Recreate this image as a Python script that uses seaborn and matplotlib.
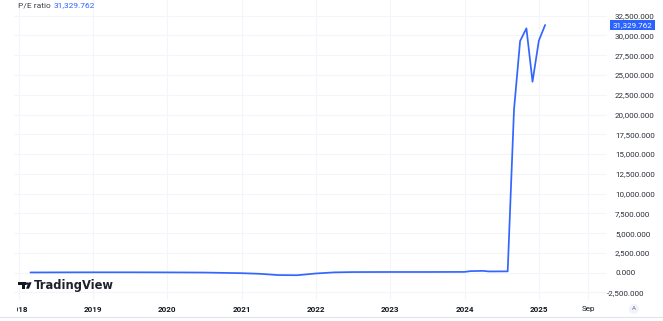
import numpy as np
import pandas as pd
import matplotlib
matplotlib.use("Agg")
import matplotlib.pyplot as plt
import matplotlib.transforms as mtransforms
from matplotlib.patches import Rectangle, Ellipse, Polygon
from matplotlib.lines import Line2D
import seaborn as sns

# ---------------- data ----------------
dates = ["2018-02-28", "2018-06-30", "2018-12-31", "2019-06-30", "2019-12-31",
         "2020-06-30", "2020-12-31", "2021-03-31", "2021-06-30", "2021-09-30",
         "2021-12-31", "2022-03-31", "2022-06-30", "2022-12-31", "2023-06-30",
         "2023-12-31", "2024-01-31", "2024-03-31", "2024-04-30", "2024-07-31",
         "2024-08-31", "2024-09-30", "2024-10-31", "2024-11-30", "2024-12-31",
         "2025-01-31"]
pe_values = [30, 40, 50, 50, 40,
             20, -60, -140, -300, -320,
             -100, 40, 80, 90, 90,
             100, 200, 230, 160, 170,
             20600, 29300, 30900, 24150, 29340,
             31329.762]
x_tick_dates = ["2018-01-01", "2019-01-01", "2020-01-01", "2021-01-01", "2022-01-01",
                "2023-01-01", "2024-01-01", "2025-01-01", "2025-09-01"]
x_tick_labels = ["2018", "2019", "2020", "2021", "2022", "2023", "2024", "2025", "Sep"]
y_ticks = [-2500, 0, 2500, 5000, 7500, 10000, 12500, 15000, 17500, 20000,
           22500, 25000, 27500, 30000, 32500]
y_tick_labels = ["-2,500.000", "0.000", "2,500.000", "5,000.000", "7,500.000",
                 "10,000.000", "12,500.000", "15,000.000", "17,500.000", "20,000.000",
                 "22,500.000", "25,000.000", "27,500.000", "30,000.000", "32,500.000"]
series_name = "P/E ratio"
last_label = "31,329.762"

df = pd.DataFrame({"date": pd.to_datetime(dates), "pe": pe_values})

# ---------------- style ----------------
sns.set_style("white")
plt.rcParams["font.family"] = ["Roboto", "DejaVu Sans"]

W, H = 663, 321
fig = plt.figure(figsize=(W / 100, H / 100), dpi=100)
fig.patch.set_facecolor("white")

def fx(px):
    return px / W

def fy(py):
    return 1 - py / H

left_px, right_px, top_px, bottom_px = 14, 607, 0, 300
ax = fig.add_axes([fx(left_px), fy(bottom_px), (right_px - left_px) / W, (bottom_px - top_px) / H])

BLUE = "#2962FF"
LINE = "#3366ff"
GRID = "#f3f5fa"
TXT = "#131722"

sns.lineplot(data=df, x="date", y="pe", ax=ax, color=LINE, linewidth=1.25)

ax.set_xlim(pd.Timestamp("2017-12-09"), pd.Timestamp("2025-12-01"))
ax.set_ylim(-3452, 34484)

for s in ax.spines.values():
    s.set_visible(False)

ax.set_xlabel("")
ax.set_ylabel("")

ax.set_xticks(pd.to_datetime(x_tick_dates))
ax.set_xticklabels(x_tick_labels)
ax.set_yticks(y_ticks)
ax.set_yticklabels(y_tick_labels)

ax.yaxis.tick_right()
ax.tick_params(axis="y", length=0, pad=5.8, labelsize=5.8, labelcolor="#2a2e39")
ax.tick_params(axis="x", length=0, pad=4.0, labelsize=5.8, labelcolor=TXT)
ax.grid(True, color=GRID, linewidth=0.8)
ax.set_axisbelow(True)

clipbox = mtransforms.TransformedBbox(
    mtransforms.Bbox([[fx(17), 0], [fx(W), 1]]), fig.transFigure)
for lab in ax.get_xticklabels():
    if lab.get_text() != "Sep":
        lab.set_fontweight("bold")
    lab.set_clip_on(True)
    lab.set_clip_box(clipbox)

# hang the minus sign of the negative label to the left
for tick, val in zip(ax.yaxis.get_major_ticks(), y_ticks):
    if val < 0:
        tick.label2.set_transform(tick.label2.get_transform() +
                                  mtransforms.ScaledTranslation(-8 / 100, 0, fig.dpi_scale_trans))

# last value box on the price scale
trans = mtransforms.blended_transform_factory(ax.transAxes, ax.transData)
ax.text((612.5 - left_px) / (right_px - left_px), pe_values[-1], last_label,
        transform=trans, ha="left", va="center", color="white", fontsize=5.8,
        bbox=dict(boxstyle="square,pad=0.28", fc=BLUE, ec="none"), clip_on=False)

# header
fig.text(fx(18), fy(5.5), series_name, ha="left", va="center", fontsize=6.0, color="#3b3f4a")
fig.text(fx(54), fy(5.5), last_label, ha="left", va="center", fontsize=6.0, color=BLUE)

# TradingView logo
logo_c = TXT
fig.patches.append(Rectangle((fx(18.3), fy(284.7)), (25.7 - 18.3) / W, 2.4 / H,
                             transform=fig.transFigure, fc=logo_c, ec="none"))
fig.patches.append(Rectangle((fx(22.0), fy(288.7)), 3.3 / W, 6.4 / H,
                             transform=fig.transFigure, fc=logo_c, ec="none"))
fig.patches.append(Ellipse((fx(27.0), fy(283.6)), 2.5 / W, 2.5 / H,
                           transform=fig.transFigure, fc=logo_c, ec="none"))
fig.patches.append(Polygon([(fx(28.6), fy(282.3)), (fx(31.6), fy(282.3)),
                            (fx(29.0), fy(288.7)), (fx(26.0), fy(288.7))],
                           closed=True, transform=fig.transFigure, fc=logo_c, ec="none"))
fig.text(fx(33.5), fy(288.8), "TradingView", ha="left", va="baseline",
         fontsize=8.3, fontweight="bold", family="DejaVu Sans", color="#1e222d")

# auto-scale button
fig.patches.append(Ellipse((fx(634), fy(309)), 10 / W, 10 / H,
                           transform=fig.transFigure, fc="#f0f3fa", ec="none"))
fig.text(fx(634), fy(309), "A", ha="center", va="center", fontsize=4.5, color="#787b86")

# bottom border
fig.lines.append(Line2D([0, 1], [fy(317), fy(317)], transform=fig.transFigure,
                        color="#e0e3eb", linewidth=0.8))

fig.savefig("out.png", dpi=100, facecolor="white")
